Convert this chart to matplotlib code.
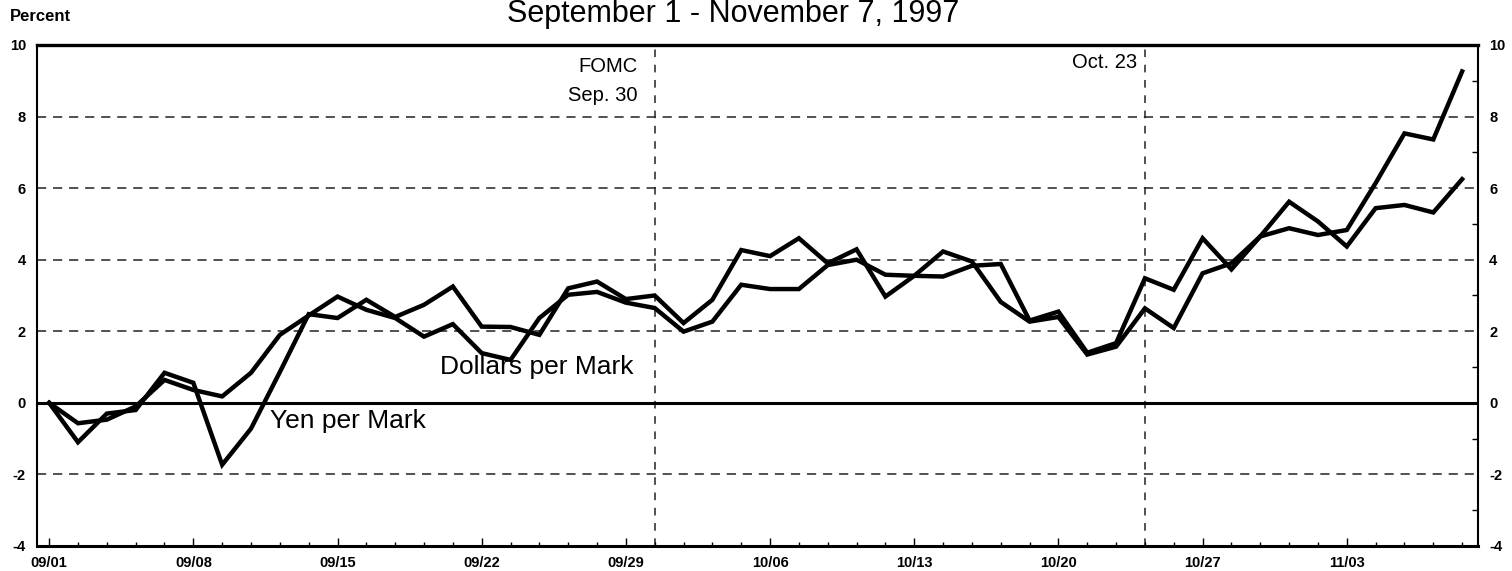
"""
Yen per Mark and Dollars per Mark, percent change since Sep 1, 1997.
"""

import numpy as np
import pandas as pd
import matplotlib
matplotlib.use("Agg")
import matplotlib.pyplot as plt
from matplotlib.ticker import FixedLocator, MultipleLocator

plt.rcParams["font.family"] = ["Liberation Sans", "DejaVu Sans"]

# business days, Sep 1 - Nov 7 1997
dates = pd.bdate_range("1997-09-01", "1997-11-07")

yen_per_mark = [
    0.0, -1.1, -0.3, -0.2, 0.84, 0.56, -1.73, -0.72, 0.86, 2.48,
    2.37, 2.88, 2.4, 2.74, 3.25, 2.13, 2.12, 1.9, 3.2, 3.39,
    2.9, 3.0, 2.23, 2.88, 4.27, 4.1, 4.6, 3.9, 4.29, 2.97,
    3.55, 4.23, 3.95, 2.82, 2.27, 2.4, 1.35, 1.57, 2.64, 2.09,
    3.62, 3.9, 4.65, 4.88, 4.69, 4.83, 6.14, 7.53, 7.36, 9.26,
]
dollars_per_mark = [
    0.0, -0.57, -0.47, -0.1, 0.64, 0.36, 0.18, 0.84, 1.9, 2.44,
    2.97, 2.6, 2.37, 1.85, 2.2, 1.39, 1.2, 2.37, 3.02, 3.1,
    2.8, 2.65, 1.99, 2.27, 3.3, 3.18, 3.18, 3.85, 4.0, 3.58,
    3.55, 3.53, 3.83, 3.88, 2.3, 2.55, 1.4, 1.67, 3.48, 3.16,
    4.6, 3.73, 4.65, 5.62, 5.07, 4.37, 5.44, 5.53, 5.32, 6.25,
]
events = [("1997-09-30", "FOMC\nSep. 30"), ("1997-10-23", "Oct. 23")]
y_ticks = [-4, -2, 0, 2, 4, 6, 8, 10]

x = np.arange(len(dates))
mondays = [i for i, d in enumerate(dates) if d.dayofweek == 0]

fig = plt.figure(figsize=(15.12, 5.71), dpi=100)
ax = fig.add_axes([0.0245, 0.0438, 0.953, 0.8774])

for yv in [-2, 2, 4, 6, 8]:
    ax.axhline(yv, color="#222222", lw=1.1, ls=(0, (6, 4.5)), zorder=1)
ax.axhline(0, color="black", lw=2.2, zorder=2)

for day, label in events:
    xi = dates.get_loc(pd.Timestamp(day))
    ax.axvline(xi, color="#222222", lw=1.1, ls=(0, (5, 5)), zorder=1)

ax.plot(x, yen_per_mark, color="black", lw=3.2, solid_joinstyle="miter", zorder=3)
ax.plot(x, dollars_per_mark, color="black", lw=3.2, solid_joinstyle="miter", zorder=3)

# event labels, right-aligned next to the vertical lines
fomc = dates.get_loc(pd.Timestamp(events[0][0]))
oct23 = dates.get_loc(pd.Timestamp(events[1][0]))
ax.text(fomc - 0.6, 9.39, "FOMC", ha="right", va="center", fontsize=14.5)
ax.text(fomc - 0.6, 8.6, "Sep. 30", ha="right", va="center", fontsize=14.5)
ax.text(oct23 - 0.27, 9.5, "Oct. 23", ha="right", va="center", fontsize=14.5)

ax.text(13.56, 1.0, "Dollars per Mark", ha="left", va="center", fontsize=19)
ax.text(7.66, -0.52, "Yen per Mark", ha="left", va="center", fontsize=19)

ax.set_xlim(-0.42, 49.55)
ax.set_ylim(-4, 10)

ax.xaxis.set_major_locator(FixedLocator(mondays))
ax.xaxis.set_minor_locator(FixedLocator(x))
ax.set_xticklabels([dates[i].strftime("%m/%d") for i in mondays],
                   fontsize=10.5, fontweight="bold")
ax.tick_params(axis="x", which="major", direction="in", length=6, width=1,
               pad=7, top=False)
ax.tick_params(axis="x", which="minor", direction="in", length=3, width=1,
               top=False)

ax.set_yticks(y_ticks)
ax.set_yticklabels([str(v) for v in y_ticks], fontsize=10.5, fontweight="bold")
ax.yaxis.set_minor_locator(MultipleLocator(1))
ax.tick_params(axis="y", which="major", length=0, left=True, right=True,
               labelleft=True, labelright=True, pad=8)
ax.tick_params(axis="y", which="minor", direction="in", length=4, width=1,
               left=False, right=True)

ax.spines["top"].set_linewidth(2.4)
ax.spines["bottom"].set_linewidth(2.2)
ax.spines["left"].set_linewidth(1.5)
ax.spines["right"].set_linewidth(1.5)

fig.text(0.485, 0.9615, "September 1 - November 7, 1997", ha="center",
         va="baseline", fontsize=22)
fig.text(0.0066, 0.963, "Percent", ha="left", va="baseline", fontsize=12,
         fontweight="bold")

fig.savefig("out.png", dpi=100)
plt.close(fig)
